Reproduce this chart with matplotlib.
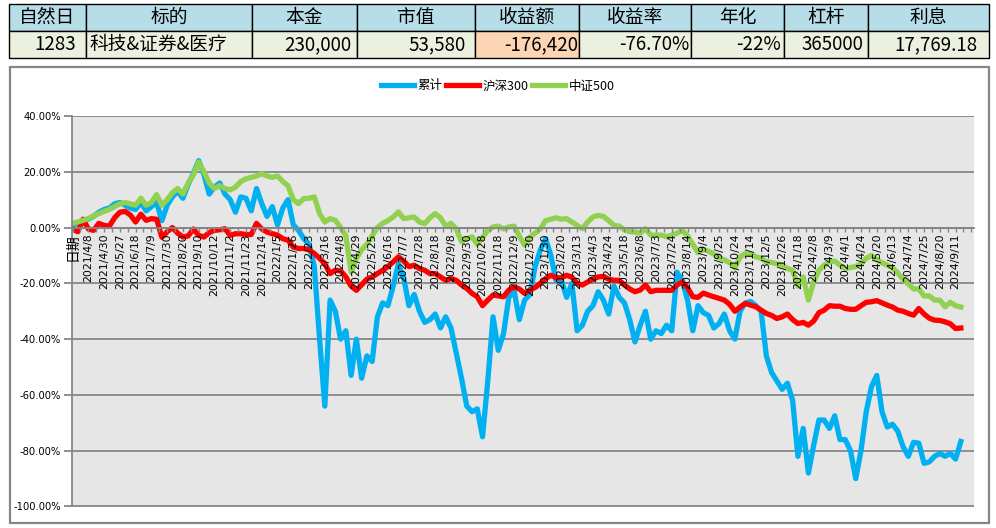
import matplotlib
matplotlib.use('Agg')
import matplotlib.pyplot as plt
import numpy as np
from matplotlib.patches import Rectangle
from matplotlib.ticker import FuncFormatter, MultipleLocator

plt.rcParams['font.family'] = ['Noto Sans CJK SC', 'DejaVu Sans']

# 表头和汇总数据
headers = ['自然日', '标的', '本金', '市值', '收益额', '收益率', '年化', '杠杆', '利息']
values = ['1283', '科技&证券&医疗', '230,000', '53,580', '-176,420', '-76.70%', '-22%', '365000', '17,769.18']

# 横轴标签 (每15个交易日一个)
dates = ['日期', '2021/4/8', '2021/4/30', '2021/5/27', '2021/6/18', '2021/7/9', '2021/7/30',
         '2021/8/20', '2021/9/10', '2021/10/12', '2021/11/2', '2021/11/23', '2021/12/14',
         '2022/1/5', '2022/1/26', '2022/2/23', '2022/3/16', '2022/4/8', '2022/4/29',
         '2022/5/25', '2022/6/16', '2022/7/7', '2022/7/28', '2022/8/18', '2022/9/8',
         '2022/9/30', '2022/10/28', '2022/11/18', '2022/12/9', '2022/12/30', '2023/1/30',
         '2023/2/20', '2023/3/13', '2023/4/3', '2023/4/24', '2023/5/18', '2023/6/8',
         '2023/7/3', '2023/7/24', '2023/8/14', '2023/9/4', '2023/9/25', '2023/10/24',
         '2023/11/14', '2023/12/5', '2023/12/26', '2024/1/18', '2024/2/8', '2024/3/9',
         '2024/4/1', '2024/4/24', '2024/5/20', '2024/6/13', '2024/7/4', '2024/7/25',
         '2024/8/20', '2024/9/11']

# 收益率曲线 (%), 每5个交易日取一个点
leiji = [1, 1.5, 2.5, 3, 4, 5.5, 6.5, 7, 8.5, 9,
         8, 7, 6.5, 9, 6, 7.5, 9, 2.5, 8, 11,
         13, 10.5, 15.5, 19.5, 24, 19, 12, 14.5, 16, 12,
         10, 5.5, 11, 10.5, 6,
         14, 8.6, 4, 7.5, 1, 7, 10, 1, -1, -4,
         -6, -14, -40, -64, -26, -30, -40, -37, -53, -40,
         -54, -46, -48, -32, -27, -28, -21, -13, -18, -28,
         -24, -30, -34, -33,
         -31, -36, -32, -36, -45, -54, -64, -66, -65, -75,
         -55, -32, -44, -38, -25, -22.5, -33, -26, -24, -14,
         -8, -4, -10, -19, -19, -25, -20, -37, -35, -30,
         -28, -23, -26,
         -31, -21, -25, -27, -33, -41, -35, -30, -40, -37,
         -38, -35, -37, -16, -19, -26, -37, -28, -30.5, -31.5,
         -36, -34.4, -31, -37, -40, -30, -27, -26.5, -28, -30,
         -46,
         -52, -55, -58, -55.8, -62, -82, -72, -88, -78, -69,
         -69, -72, -67.5, -76, -76, -80, -90, -80, -66, -57,
         -53, -66, -71.5, -70.5, -73, -78.5, -82, -77, -77.3, -84.5,
         -84, -82, -81, -82, -81, -83, -76.7]

hs300 = [-0.5, -1.5, 3, -0.5, -1, 1.5, 0.8, 0.5, 3.5, 5.5,
         5.8, 4.5, 2, 4.8, 2.6, 3.2, 3, -3.5, -1.5, 0,
         -2, -3.4, -3, -0.5, -2.8, -3.4, -1.8, -1, -0.8, -0.4,
         -2.8, -2.2, -2.2, -2.5, -2.5,
         1.5, -0.5, -1.6, -2.2, -2.7, -4, -4.5, -7, -7.5, -7.5,
         -8, -9.3, -11, -13, -16.5, -15.3, -15.5, -17.7, -21, -22.5,
         -20.5, -18.5, -17.7, -16.5, -15.3, -14, -12.3, -10.5, -12, -14,
         -13.5, -14.7, -15.3, -16.5,
         -16.5, -17.7, -18.9, -18.3, -18.9, -20.6, -21.8, -23.6, -24.8, -28,
         -26, -24.2, -24.5, -24.8, -22.4, -21.2, -22, -23.6, -22.4, -21.5,
         -20, -18.3, -17.1, -18, -18, -17.1, -17.8, -20, -20.6, -19.5,
         -18.5, -17.7, -17.5,
         -18.5, -18.9, -18.9, -20.6, -22, -23, -22.4, -20.6, -23, -22.5,
         -22.5, -22.5, -22.5, -20.6, -19.5, -21.5, -24.8, -25, -23.5, -24.2,
         -24.8, -25.4, -26, -27.5, -30, -28.5, -27.2, -27.8, -28.4, -29.6,
         -30.8,
         -31.5, -32.6, -32, -31, -33, -34.4, -34, -35, -33.5, -30.5,
         -29.6, -28, -28.2, -28.2, -29, -29.3, -29.3, -28, -26.8, -26.6,
         -26.2, -27, -27.8, -28.5, -29.6, -30, -30.8, -31.4, -29, -31,
         -32.5, -33.2, -33.3, -33.8, -34.5, -36.2, -36]

zz500 = [1.5, 2, 2.6, 3.2, 4.2, 5, 5.8, 6.5, 7.5, 8.5,
         9, 8.5, 8, 10.5, 8, 9, 11.8, 8, 10, 12.5,
         14, 12, 16, 19, 23.5, 20, 16, 14, 15, 14,
         13.5, 14.5, 16.5, 17.5, 18,
         18.5, 19.3, 18.5, 18, 18.5, 16.5, 15, 10, 8.6, 10.4,
         10.5, 11, 5, 2, 3.2, 2.6, 0, -3, -16, -11,
         -8, -6, -3, 0, 1.5, 2.5, 3.8, 5.6, 3.2, 3.5,
         3.8, 2, 1.4, 3.5,
         5, 3.5, 0.5, 1.5, -0.5, -5, -4, -3.3, -6, -3.5,
         -1, 0.2, 0.5, -0.5, 0.2, 0.5, -3, -6.3, -3.5, -2,
         -0.5, 2.5, 3, 3.5, 3, 3.2, 2, 0.8, -0.4, 2,
         3.8, 4.4, 4,
         2.5, 0.8, 0.5, -0.8, -1.5, -1.6, -2, -0.4, -2.7, -2.7,
         -2.7, -3.3, -2.7, -2, -1, -3, -6, -9, -7.8, -8.5,
         -9.5, -10.8, -11.5, -12.6, -14.5, -10.5, -9.3, -9.5, -10.5, -11,
         -12.3,
         -12.5, -13, -13.5, -14.7, -15.3, -21, -17.7, -26, -19.5, -15.3,
         -13.5, -12.3, -12, -13.5, -14.7, -14.3, -14, -12.9, -11, -10,
         -11.5, -12.6, -13.5, -14.5, -16.3, -18.5, -20.2, -22, -22, -24.5,
         -24.5, -26, -26, -28.4, -26.8, -28, -28.5]

fig = plt.figure(figsize=(9.96, 5.28), dpi=100)

# --- 上方表格 (像素坐标) ---
bg = fig.add_axes([0, 0, 1, 1])
bg.set_xlim(0, 996)
bg.set_ylim(528, 0)
bg.axis('off')

col_edges = [9, 86, 252, 357, 475, 579, 691, 784, 868, 989]
text_right = [76, None, 351, 466, 578, 689, 781, 863, 978]
for i in range(len(headers)):
    x0, x1 = col_edges[i], col_edges[i + 1]
    bg.add_patch(Rectangle((x0, 4), x1 - x0, 27, fc='#B7DEE8', ec='black', lw=1))
    cell_c = '#FCD5B4' if i == 4 else '#EBF1DE'
    bg.add_patch(Rectangle((x0, 31), x1 - x0, 27, fc=cell_c, ec='black', lw=1))
    bg.text((x0 + x1) / 2, 17.5, headers[i], ha='center', va='center', fontsize=13.5)
    if text_right[i] is None:
        bg.text(x0 + 3, 44.5, values[i], ha='left', va='center', fontsize=13.5)
    else:
        bg.text(text_right[i], 44.5, values[i], ha='right', va='center', fontsize=13.5)

# 图表外框
bg.add_patch(Rectangle((10, 67), 979, 456, fill=False, ec='#868686', lw=1.6))

# --- 折线图 ---
ax = fig.add_axes([72 / 996, 1 - 506.5 / 528, 902 / 996, (506.5 - 116) / 528])
ax.set_facecolor('#E6E6E6')
x = np.arange(len(leiji))
yt = np.arange(-100, 41, 20)
for v in yt:
    ax.axhline(v, color='#868686', lw=1.3, zorder=1)
ax.plot(x, leiji, color='#00B0F0', lw=3.8, label='累计', solid_joinstyle='round', zorder=2)
ax.plot(x, hs300, color='#FF0000', lw=3.8, label='沪深300', solid_joinstyle='round', zorder=2)
ax.plot(x, zz500, color='#92D050', lw=3.8, label='中证500', solid_joinstyle='round', zorder=2)

ax.set_ylim(-100, 40)
ax.set_yticks(yt)
ax.yaxis.set_major_formatter(FuncFormatter(lambda v, p: f'{v:.2f}%'))
ax.set_axisbelow(False)

ax.set_xlim(-0.1, 171.5)
ax.set_xticks(np.arange(0, len(x), 3))
ax.set_xticklabels(dates)
ax.xaxis.set_minor_locator(MultipleLocator(1.5))
ax.spines['bottom'].set_position(('data', 0))
ax.spines['bottom'].set_color('#868686')
ax.spines['bottom'].set_linewidth(1.3)
ax.spines['left'].set_color('#868686')
ax.spines['left'].set_linewidth(1.3)
ax.spines['top'].set_visible(False)
ax.spines['right'].set_visible(False)
ax.tick_params(axis='x', which='both', length=3, width=1, color='#868686', pad=1,
               labelsize=7.8, labelrotation=90)
ax.tick_params(axis='y', length=6, width=1.3, color='#868686', labelsize=7.2, pad=2)
for lbl in ax.get_xticklabels():
    lbl.set_family(['DejaVu Sans', 'Noto Sans CJK SC'])
    lbl.set_rotation(90)
ax.get_xticklabels()[0].set_fontsize(10)
for lbl in ax.get_yticklabels():
    lbl.set_family('DejaVu Sans')

fig.legend(loc='center', bbox_to_anchor=(498 / 996, 1 - 86 / 528), ncol=3, frameon=False,
           fontsize=9, handlelength=2.6, handletextpad=0.3, columnspacing=0.3)

fig.savefig('out.png', dpi=100)
